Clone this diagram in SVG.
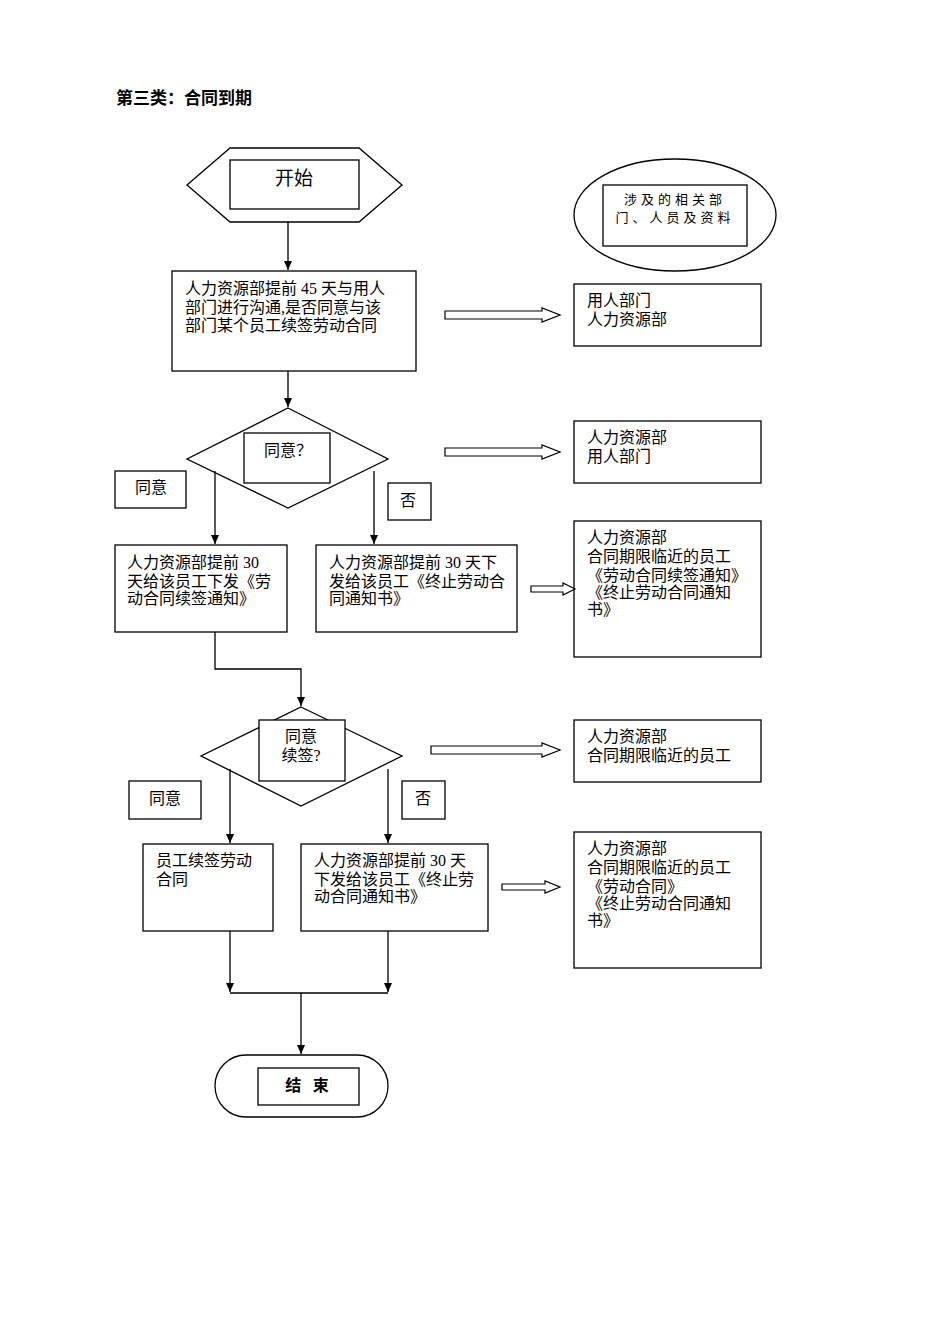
<svg xmlns="http://www.w3.org/2000/svg" width="950" height="1344" viewBox="0 0 950 1344">
<style>
.s{fill:#fff;stroke:#000;stroke-width:1.3}
.n{fill:none;stroke:#000;stroke-width:1.3}
.c{stroke:#000;stroke-width:1.3;fill:none}
.h{fill:#fff;stroke:#000;stroke-width:1.2}
text{font-family:"Liberation Serif","Noto Sans CJK SC",serif;font-size:16px;fill:#000}
.m{text-anchor:middle}
</style>
<defs><marker id="a" markerWidth="10" markerHeight="10" refX="9" refY="5" orient="auto" markerUnits="userSpaceOnUse"><path d="M0,1 L9,5 L0,9z" fill="#000"/></marker></defs>
<rect width="950" height="1344" fill="#fff"/>
<text x="116" y="104" style="font-family:'Liberation Sans','Noto Sans CJK SC',sans-serif;font-weight:bold;font-size:17px">第三类：合同到期</text>
<g id="start"><polygon class="s" points="187,185 230,148 359,148 402,185 359,222 230,222"/><rect class="s" x="230" y="160" width="129" height="49"/><text x="294" y="185" class="m" style="font-family:'Noto Sans CJK SC',sans-serif;font-size:19px">开始</text></g>
<g id="legend"><ellipse class="s" cx="675" cy="215" rx="101" ry="56"/><rect class="s" x="603" y="185" width="144" height="61"/><text x="675" y="204" class="m" style="font-size:13px;letter-spacing:4px">涉及的相关部</text><text x="675" y="222" class="m" style="font-size:13px;letter-spacing:4px">门、人员及资料</text></g>
<g id="step1"><rect class="s" x="172" y="271" width="244" height="100"/><text x="185" y="294">人力资源部提前 45 天与用人</text><text x="185" y="313">部门进行沟通,是否同意与该</text><text x="185" y="331">部门某个员工续签劳动合同</text></g>
<g id="r1"><rect class="s" x="574" y="284" width="187" height="62"/><text x="587" y="306">用人部门</text><text x="587" y="325">人力资源部</text></g>
<g id="d1"><polygon class="s" points="288,408 388,459 288,508 187,459"/><rect class="s" x="244" y="433" width="86" height="50"/><text x="288" y="456" class="m">同意？</text></g>
<g id="l1"><rect class="s" x="115" y="471" width="71" height="37"/><text x="151" y="493" class="m">同意</text></g>
<g id="l2"><rect class="s" x="388" y="483" width="43" height="37"/><text x="408" y="506" class="m">否</text></g>
<g id="r2"><rect class="s" x="574" y="421" width="187" height="62"/><text x="587" y="443">人力资源部</text><text x="587" y="462">用人部门</text></g>
<g id="b2"><rect class="s" x="115" y="545" width="172" height="87"/><text x="127" y="568">人力资源部提前 30</text><text x="127" y="587">天给该员工下发《劳</text><text x="127" y="604">动合同续签通知》</text></g>
<g id="b3"><rect class="s" x="316" y="545" width="201" height="87"/><text x="329" y="568">人力资源部提前 30 天下</text><text x="329" y="587">发给该员工《终止劳动合</text><text x="329" y="604">同通知书》</text></g>
<g id="r3"><rect class="s" x="574" y="521" width="187" height="136"/><text x="587" y="543">人力资源部</text><text x="587" y="562">合同期限临近的员工</text><text x="587" y="581">《劳动合同续签通知》</text><text x="587" y="598">《终止劳动合同通知</text><text x="587" y="615">书》</text></g>
<g id="d2"><polygon class="s" points="301,707 402,756 301,806 201,756"/><rect class="s" x="259" y="720" width="86" height="61"/><text x="301" y="742" class="m">同意</text><text x="301" y="761" class="m">续签?</text></g>
<g id="r4"><rect class="s" x="574" y="720" width="187" height="62"/><text x="587" y="742">人力资源部</text><text x="587" y="761">合同期限临近的员工</text></g>
<g id="l3"><rect class="s" x="129" y="781" width="72" height="38"/><text x="165" y="804" class="m">同意</text></g>
<g id="l4"><rect class="s" x="402" y="781" width="43" height="38"/><text x="423" y="804" class="m">否</text></g>
<g id="b4"><rect class="s" x="143" y="844" width="130" height="87"/><text x="156" y="866">员工续签劳动</text><text x="156" y="885">合同</text></g>
<g id="b5"><rect class="s" x="301" y="844" width="187" height="87"/><text x="314" y="866">人力资源部提前 30 天</text><text x="314" y="885">下发给该员工《终止劳</text><text x="314" y="902">动合同通知书》</text></g>
<g id="r5"><rect class="s" x="574" y="832" width="187" height="136"/><text x="587" y="854">人力资源部</text><text x="587" y="873">合同期限临近的员工</text><text x="587" y="892">《劳动合同》</text><text x="587" y="909">《终止劳动合同通知</text><text x="587" y="926">书》</text></g>
<g id="end"><rect class="s" x="215" y="1055" width="173" height="62" rx="31"/><rect class="s" x="258" y="1068" width="101" height="37"/><text x="309" y="1091" class="m" style="font-family:'Noto Sans CJK SC',sans-serif;font-weight:bold;letter-spacing:4px">结 束</text></g>
<g id="connectors">
<path class="c" d="M288,222V270" marker-end="url(#a)"/>
<path class="c" d="M288,371V407" marker-end="url(#a)"/>
<path class="c" d="M215,471V544" marker-end="url(#a)"/>
<path class="c" d="M374,471V544" marker-end="url(#a)"/>
<path class="c" d="M215,632V669H301V706" marker-end="url(#a)"/>
<path class="c" d="M230,769V843" marker-end="url(#a)"/>
<path class="c" d="M388,769V843" marker-end="url(#a)"/>
<path class="c" d="M230,931V992" marker-end="url(#a)"/>
<path class="c" d="M388,931V992" marker-end="url(#a)"/>
<path class="c" d="M230,993H388M301,993V1054" marker-end="url(#a)"/>
<polygon class="h" points="445,311 542,311 542,308 560,315 542,322 542,319 445,319"/>
<polygon class="h" points="445,448 542,448 542,445 560,452 542,459 542,456 445,456"/>
<polygon class="h" points="531,586 563,586 563,583 575,589 563,595 563,592 531,592"/>
<polygon class="h" points="431,746 542,746 542,743 560,750 542,757 542,754 431,754"/>
<polygon class="h" points="502,884 545,884 545,881 560,887 545,893 545,890 502,890"/>
</g>
</svg>
